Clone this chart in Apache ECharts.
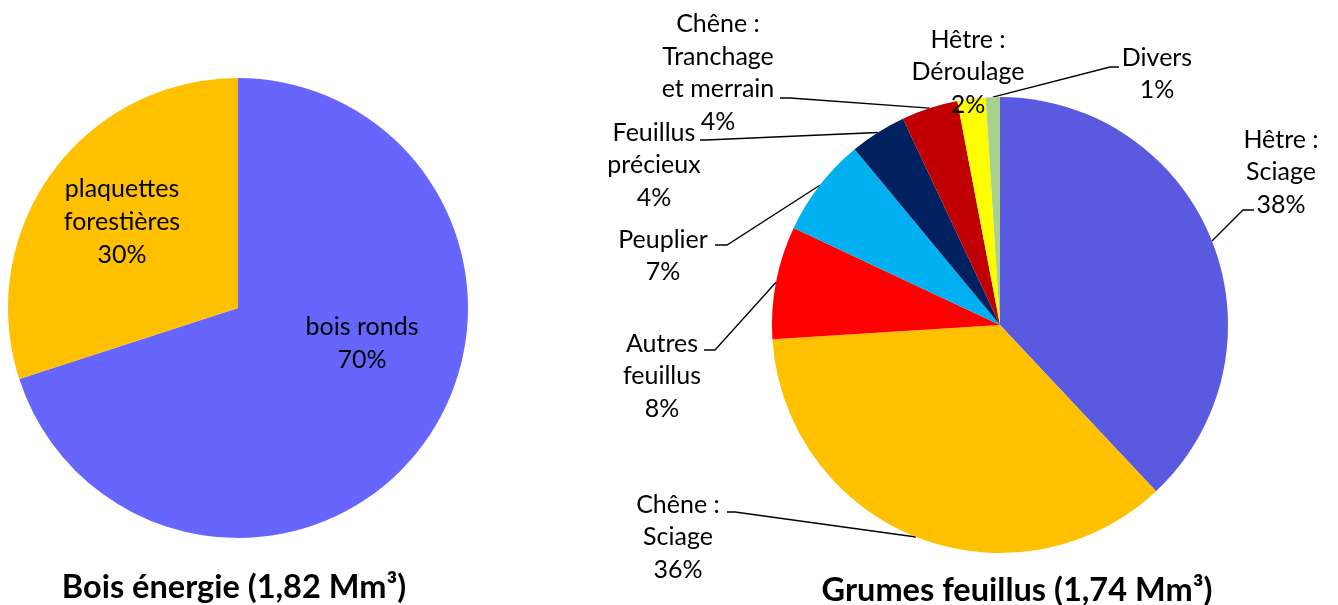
<!DOCTYPE html>
<html>
<head>
<meta charset="utf-8">
<script src="https://cdn.jsdelivr.net/npm/echarts@6/dist/echarts.min.js"></script>
<style>
  html, body { margin: 0; padding: 0; background: #fff; }
  #chart { width: 1338px; height: 605px; }
</style>
</head>
<body>
<div id="chart"></div>
<script>
// Bois énergie
const leftNames = ['bois ronds', 'plaquettes\nforestières']
const leftValues = [70, 30]
const leftColors = ['#6666ff', '#ffc000']
const leftLabelPos = [[362, 343], [122, 222]]

// Grumes feuillus
const rightNames = ['Hêtre :\nSciage', 'Chêne :\nSciage', 'Autres\nfeuillus', 'Peuplier',
  'Feuillus\nprécieux', 'Chêne :\nTranchage\net merrain', 'Hêtre :\nDéroulage', 'Divers']
const rightValues = [38, 36, 8, 7, 4, 4, 2, 1]
const rightColors = ['#5a5ae0', '#ffc000', '#ff0000', '#00b0f0', '#002060', '#c00000', '#ffff00', '#a9d18e']
// label centres and leader line ends (elbow, end)
const rightLabelPos = [[1281, 172], [678, 537], [662, 376], [663, 256], [654, 165], [718, 73], [968, 72], [1157, 74]]
const rightLineEnd = [
  [[1243, 210], [1254, 210]],
  [[735, 512], [727, 512]],
  [[715, 350], [704, 350]],
  [[727, 245], [715, 245]],
  [[706, 140], [700, 140]],
  [[790, 98], [780, 98]],
  null,
  [[1110, 67], [1119, 67]]
]

const font = 'Lato, "Open Sans", sans-serif'

const chart = echarts.init(document.getElementById('chart'))

const option = {
  animation: false,
  title: [
    {
      text: 'Bois énergie (1,82 Mm³)',
      left: 229,
      textAlign: 'center',
      top: 566,
      textStyle: { fontFamily: font, fontSize: 32.5, fontWeight: 'bold', color: '#000' }
    },
    {
      text: 'Grumes feuillus (1,74 Mm³)',
      left: 1012,
      textAlign: 'center',
      top: 569,
      textStyle: { fontFamily: font, fontSize: 32.5, fontWeight: 'bold', color: '#000' }
    }
  ],
  series: [
    {
      type: 'pie',
      center: [238, 308],
      radius: 230,
      startAngle: 90,
      clockwise: true,
      data: leftNames.map((n, i) => ({ name: n, value: leftValues[i], itemStyle: { color: leftColors[i] } })),
      label: {
        position: 'inside',
        formatter: p => p.name + '\n' + p.value + '%',
        fontFamily: font,
        fontSize: 25,
        lineHeight: 33,
        color: '#000',
        align: 'center',
        overflow: 'none'
      },
      labelLine: { show: false },
      labelLayout: function (params) {
        const p = leftLabelPos[params.dataIndex]
        return { x: p[0], y: p[1], align: 'center', verticalAlign: 'middle' }
      },
      emphasis: { disabled: true }
    },
    {
      type: 'pie',
      center: [1000, 325],
      radius: 228,
      startAngle: 90,
      clockwise: true,
      data: rightNames.map((n, i) => ({
        name: n,
        value: rightValues[i],
        itemStyle: { color: rightColors[i] },
        labelLine: { show: rightLineEnd[i] !== null }
      })),
      label: {
        position: 'outside',
        formatter: p => p.name + '\n' + p.value + '%',
        fontFamily: font,
        fontSize: 25,
        lineHeight: 32.5,
        color: '#000',
        align: 'center',
        overflow: 'none',
        width: 140
      },
      labelLine: {
        show: true,
        lineStyle: { color: '#000', width: 1.3 }
      },
      labelLayout: function (params) {
        const i = params.dataIndex
        const p = rightLabelPos[i]
        const out = { x: p[0], y: p[1], align: 'center', verticalAlign: 'middle' }
        const e = rightLineEnd[i]
        if (e && params.labelLinePoints) {
          out.labelLinePoints = [params.labelLinePoints[0], e[0], e[1]]
        }
        return out
      },
      emphasis: { disabled: true }
    }
  ]
}

chart.setOption(option)
</script>
</body>
</html>
